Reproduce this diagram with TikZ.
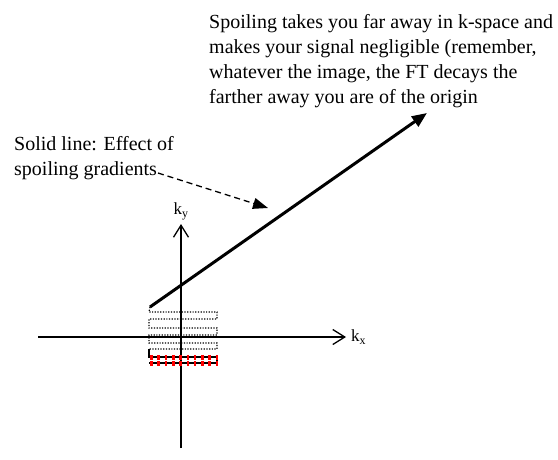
\documentclass[tikz,border=0pt]{standalone}
\usepackage{fontspec}
\setmainfont{Liberation Serif}
\usetikzlibrary{arrows.meta,positioning}
\tikzset{
  axis/.style={line width=1.3pt,-{Straight Barb[length=12pt,width=15pt,line width=1.3pt]}},
  txt/.style={inner sep=0pt,align=left,anchor=north west,font=\fontsize{20}{25}\selectfont},
  klbl/.style={inner sep=0pt,font=\fontsize{17}{20}\selectfont},
  spoil/.style={line width=3pt,-{Triangle[length=15pt,width=12pt]}},
  ptr/.style={line width=1.3pt,dash pattern=on 6pt off 4pt,-{Triangle[length=15pt,width=11pt]}},
  raster/.style={line width=1.2pt,dash pattern=on 1.2pt off 1.5pt},
  cur/.style={line width=2.8pt},
  curdot/.style={red,line width=5pt,dash pattern=on 2.6pt off 4.7pt},
}

\begin{document}
\begin{tikzpicture}[x=1pt,y=-1pt]
 \useasboundingbox (0,0) rectangle (558,459);
 % axes
 \coordinate (xl) at (38,337);
 \coordinate (xr) at (346,337);
 \coordinate (yb) at (181,448);
 \coordinate (yt) at (181,224);
 \draw[axis] (xl) -- (xr);
 \draw[axis] (yb) -- (yt);
 \node[klbl,above=4pt of yt] (ky) {k\textsubscript{y}};
 \node[klbl,right=5pt of xr] (kx) {k\textsubscript{x}};
 % acquired part of the raster
 \draw[raster] (150,307) -- (149,312) -- (217,312) -- (217,319) -- (149,319) -- (149,328)
   -- (217,328) -- (217,335) -- (149,335) -- (149,343) -- (217,343) -- (217,349) -- (149,349);
 % current line
 \draw[cur] (149,349) -- (149,357) -- (217,357) -- (217,363) -- (149,363);
 \draw[curdot] (150,357) -- (218,357);
 \draw[curdot] (150,363) -- (218,363);
 % spoiling
 \coordinate (s0) at (150,307);
 \coordinate (s1) at (427,113);
 \draw[spoil] (s0) -- (s1);
 \node[txt] (top) at (209,14) {Spoiling takes you far away in k-space and\\makes your signal negligible (remember,\\whatever the image, the FT decays the\\farther away you are of the origin};
 \node[txt] (side) at (14,136) {Solid line: Effect of\\spoiling gradients};
 \coordinate (d0) at (158,173);
 \coordinate (d1) at (268,208);
 \draw[ptr] (d0) -- (d1);
\end{tikzpicture}
\end{document}
